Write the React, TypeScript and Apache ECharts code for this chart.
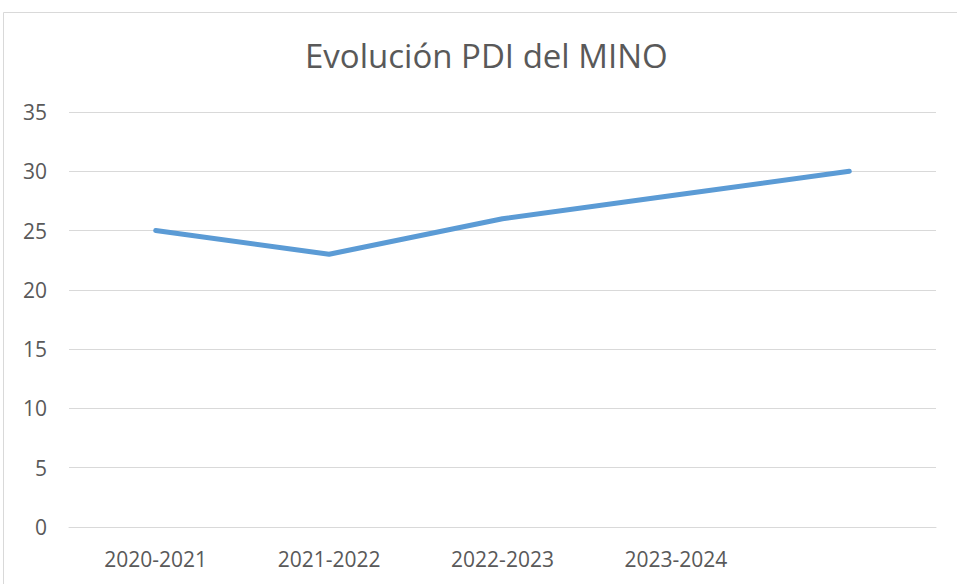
import React, { useEffect, useRef } from "react";
import * as echarts from "echarts";

const categories: string[] = ["2020-2021", "2021-2022", "2022-2023", "2023-2024", ""];
const pdiValues: number[] = [25, 23, 26, 28, 30];
const titleText = "Evolución PDI del MINO";

export default function App() {
  const ref = useRef<HTMLDivElement>(null);
  useEffect(() => {
    if (!ref.current) return;
    const chart = echarts.init(ref.current, undefined, { renderer: "svg" });
    const font = "'Open Sans', 'Noto Sans', sans-serif";
    chart.setOption({
      animation: false,
      backgroundColor: "#ffffff",
      title: {
        text: titleText,
        left: 305,
        top: 39,
        padding: 0,
        textStyle: { fontFamily: font, fontSize: 33, fontWeight: "normal", color: "#595959" },
      },
      graphic: [
        {
          type: "rect",
          shape: { x: 3.5, y: 12.5, width: 970, height: 600 },
          style: { fill: "none", stroke: "#d9d9d9", lineWidth: 1 },
          silent: true,
        },
      ],
      grid: { left: 69, right: 21, top: 112, bottom: 57, containLabel: false },
      xAxis: {
        type: "category",
        data: categories,
        boundaryGap: true,
        axisLine: { show: true, lineStyle: { color: "#d9d9d9", width: 1 } },
        axisTick: { show: false },
        axisLabel: { margin: 21, fontFamily: font, fontSize: 21, color: "#595959" },
      },
      yAxis: {
        type: "value",
        min: 0,
        max: 35,
        interval: 5,
        axisLine: { show: false },
        axisTick: { show: false },
        splitLine: { lineStyle: { color: "#d9d9d9", width: 1 } },
        axisLabel: { margin: 22, fontFamily: font, fontSize: 21, color: "#595959" },
      },
      series: [
        {
          type: "line",
          data: pdiValues,
          showSymbol: false,
          symbol: "none",
          lineStyle: { color: "#5b9bd5", width: 5, cap: "round", join: "round" },
        },
      ],
    });
    return () => chart.dispose();
  }, []);
  return (
    <div
      ref={ref}
      style={{ position: "fixed", left: 0, top: 0, width: 957, height: 584 }}
    />
  );
}
